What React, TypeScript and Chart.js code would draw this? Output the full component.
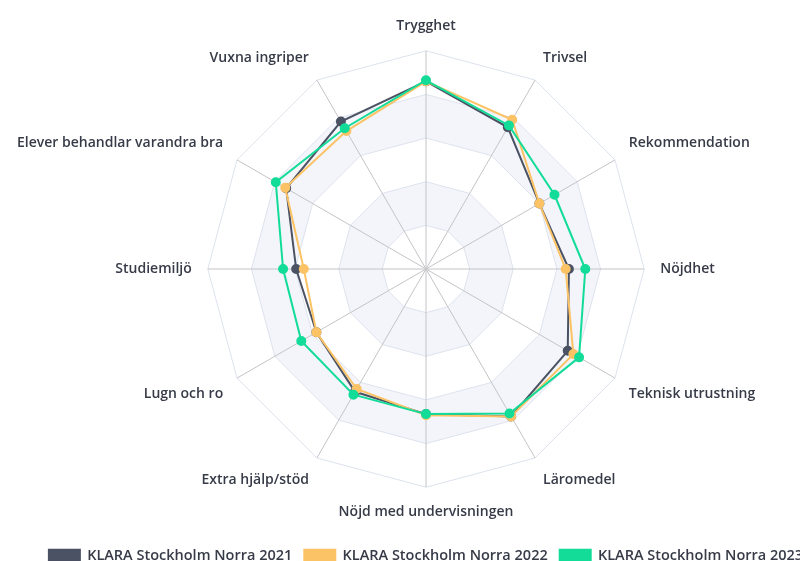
import React, { useEffect, useRef } from "react";
import { Chart, registerables } from "chart.js";

Chart.register(...registerables);

const categories = [
  "Trygghet",
  "Trivsel",
  "Rekommendation",
  "Nöjdhet",
  "Teknisk utrustning",
  "Läromedel",
  "Nöjd med undervisningen",
  "Extra hjälp/stöd",
  "Lugn och ro",
  "Studiemiljö",
  "Elever behandlar varandra bra",
  "Vuxna ingriper",
];

const seriesNames = [
  "KLARA Stockholm Norra 2021",
  "KLARA Stockholm Norra 2022",
  "KLARA Stockholm Norra 2023",
];

const values2021 = [86, 75, 60, 65.5, 75, 78, 66.5, 65, 58, 59.5, 74, 78];
const values2022 = [86, 79, 60, 64, 78, 78, 67, 63.5, 58, 56, 74.5, 73];
const values2023 = [86.5, 76, 68, 73, 81, 76.5, 66.5, 66.5, 66, 65.5, 79.5, 74.5];

const colors = ["#4b5263", "#fcc366", "#12dc98"];

const bandPlugin = {
  id: "bands",
  beforeDraw(chart: any) {
    const scale = chart.scales.r;
    if (!scale) return;
    const ctx = chart.ctx;
    const n = chart.data.labels.length;
    const poly = (v: number) => {
      const d = scale.getDistanceFromCenterForValue(v);
      for (let i = 0; i < n; i++) {
        const p = scale.getPointPosition(i, d);
        if (i === 0) ctx.moveTo(p.x, p.y);
        else ctx.lineTo(p.x, p.y);
      }
      ctx.closePath();
    };
    ctx.save();
    ctx.fillStyle = "#f3f5fa";
    [[20, 40], [60, 80]].forEach(([a, b]) => {
      ctx.beginPath();
      poly(b);
      poly(a);
      ctx.fill("evenodd");
    });
    ctx.restore();
  },
};

const legendShiftPlugin = {
  id: "legendShift",
  afterLayout(chart: any) {
    const lg = chart.legend;
    if (!lg) return;
    lg.left += 14;
    lg.right += 14;
    lg.top += 16;
    lg.bottom += 16;
  },
};

export default function App() {
  const ref = useRef<HTMLCanvasElement>(null);
  useEffect(() => {
    if (!ref.current) return;
    const data = [values2021, values2022, values2023];
    const chart = new Chart(ref.current, {
      type: "radar",
      data: {
        labels: categories,
        datasets: seriesNames.map((name, i) => ({
          label: name,
          data: data[i],
          order: 2 - i,
          borderColor: colors[i],
          backgroundColor: colors[i],
          pointBackgroundColor: colors[i],
          pointBorderColor: colors[i],
          pointRadius: 4,
          borderWidth: 2,
          fill: false,
        })),
      },
      options: {
        animation: false,
        responsive: false,
        maintainAspectRatio: false,
        layout: { padding: { top: 18, bottom: 16, right: 28, left: 0 } },
        scales: {
          r: {
            min: 0,
            max: 100,
            ticks: { display: false, stepSize: 20 },
            grid: { color: "#dde2ee", lineWidth: 1 },
            angleLines: { color: "#c4c4c8", lineWidth: 1 },
            pointLabels: {
              padding: 16,
              color: "#363b47",
              font: { family: "'Open Sans'", size: 14, weight: 600 },
            },
          },
        },
        plugins: {
          legend: {
            position: "bottom",
            labels: {
              boxWidth: 31,
              boxHeight: 12,
              padding: 12,
              color: "#363b47",
              font: { family: "'Open Sans'", size: 14.5, weight: 600 },
              sort: (a: any, b: any) => a.datasetIndex - b.datasetIndex,
            },
          },
          tooltip: { enabled: false },
        },
      },
      plugins: [bandPlugin, legendShiftPlugin],
    });
    return () => chart.destroy();
  }, []);
  return (
    <div
      style={{
        position: "fixed",
        left: 0,
        top: 0,
        width: "100vw",
        height: "100vh",
        overflow: "hidden",
        background: "#fff",
      }}
    >
      <canvas ref={ref} width={852} height={573} style={{ display: "block" }} />
    </div>
  );
}
